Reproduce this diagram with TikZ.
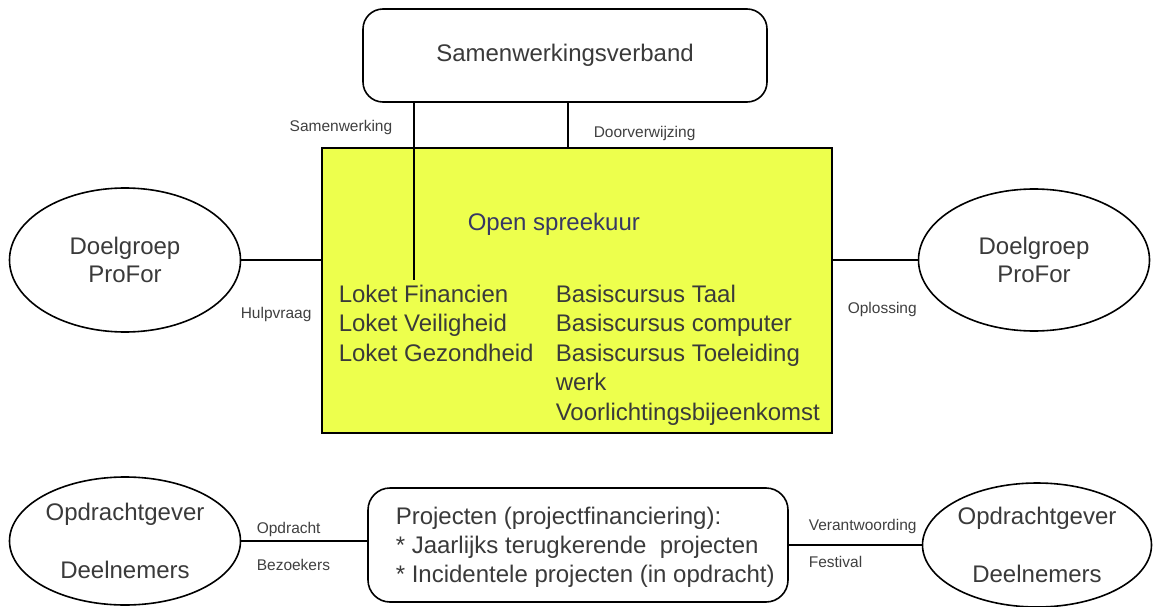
\documentclass[tikz,border=0pt]{standalone}
\usepackage{fontspec}
\setmainfont{Liberation Sans}
\usetikzlibrary{shapes.geometric}
\definecolor{boxyellow}{RGB}{237,255,77}
\definecolor{txt}{RGB}{58,58,58}
\definecolor{lbl}{RGB}{64,64,64}
\definecolor{bluetxt}{RGB}{55,55,100}
\begin{document}
\begin{tikzpicture}[x=1pt,y=-1pt, line width=1.6pt,
  bigtext/.style={font=\fontsize{24}{28}\selectfont, text=txt},
  lbltext/.style={font=\fontsize{15.5}{18}\selectfont, text=lbl, inner sep=0, anchor=base west},
  ellnode/.style={draw, ellipse, inner sep=0, outer sep=0, align=center, bigtext},
  rbox/.style={draw, rounded corners=20pt, inner sep=0, outer sep=0},
  listline/.style={bigtext, inner sep=0, anchor=base west}]
\useasboundingbox (0,0) rectangle (1154,607);
\fill[white] (0,0) rectangle (1154,607);

% top box
\node[rbox, minimum width=404pt, minimum height=93pt, bigtext] (sam) at (565,55.5) {Samenwerkingsverband};

% central yellow box
\node[draw, fill=boxyellow, minimum width=510pt, minimum height=285pt, inner sep=0, outer sep=0] (spreek) at (577,290.5) {};
\node[listline, text=bluetxt] (open) at (467,230.5) {Open spreekuur};
\node[listline] (l1) at (338,302) {Loket Financien};
\node[listline] (l2) at (338,331.5) {Loket Veiligheid};
\node[listline] (l3) at (338,361) {Loket Gezondheid};
\node[listline] (b1) at (555,302) {Basiscursus Taal};
\node[listline] (b2) at (555,331.5) {Basiscursus computer};
\node[listline] (b3) at (555,361) {Basiscursus Toeleiding};
\node[listline] (b4) at (555,390.5) {werk};
\node[listline] (b5) at (555,420) {Voorlichtingsbijeenkomst};

% ellipses
\node[ellnode, minimum width=231pt, minimum height=144pt] (doelL) at (125,260) {Doelgroep\\ProFor};
\node[ellnode, minimum width=231pt, minimum height=142pt] (doelR) at (1034,260) {Doelgroep\\ProFor};
\node[ellnode, minimum width=231pt, minimum height=128pt] (opL) at (125,541) {Opdrachtgever\\[30pt]Deelnemers};
\node[ellnode, minimum width=229pt, minimum height=124pt] (opR) at (1037,545) {Opdrachtgever\\[30pt]Deelnemers};

% bottom project box
\node[rbox, rounded corners=22pt, minimum width=420pt, minimum height=114pt] (proj) at (578,545) {};
\node[listline] (p1) at (395,524) {Projecten (projectfinanciering):};
\node[listline] (p2) at (395,553) {* Jaarlijks terugkerende\ \ projecten};
\node[listline] (p3) at (395,582) {* Incidentele projecten (in opdracht)};

% connectors
\coordinate (samEnd) at (414,280);
\coordinate (doorX) at (568,0);
\draw (sam.south -| samEnd) -- (samEnd);
\draw (sam.south -| doorX) -- (spreek.north -| doorX);
\draw (doelL.east) -- (doelL.east -| spreek.west);
\draw (spreek.east |- doelR.west) -- (doelR.west);
\draw (opL.east) -- (opL.east -| proj.west);
\draw (proj.east |- opR.west) -- (opR.west);

% labels
\node[lbltext, anchor=base east] (lSam) at (393,131.5) {Samenwerking};
\node[lbltext] (lDoor) at (593,137.5) {Doorverwijzing};
\node[lbltext] (lHulp) at (240,318.5) {Hulpvraag};
\node[lbltext] (lOpl) at (847,313.5) {Oplossing};
\node[lbltext] (lOpd) at (256,533.5) {Opdracht};
\node[lbltext] (lBez) at (256,570.5) {Bezoekers};
\node[lbltext] (lVer) at (808,530.5) {Verantwoording};
\node[lbltext] (lFes) at (808,567.5) {Festival};
\end{tikzpicture}
\end{document}
